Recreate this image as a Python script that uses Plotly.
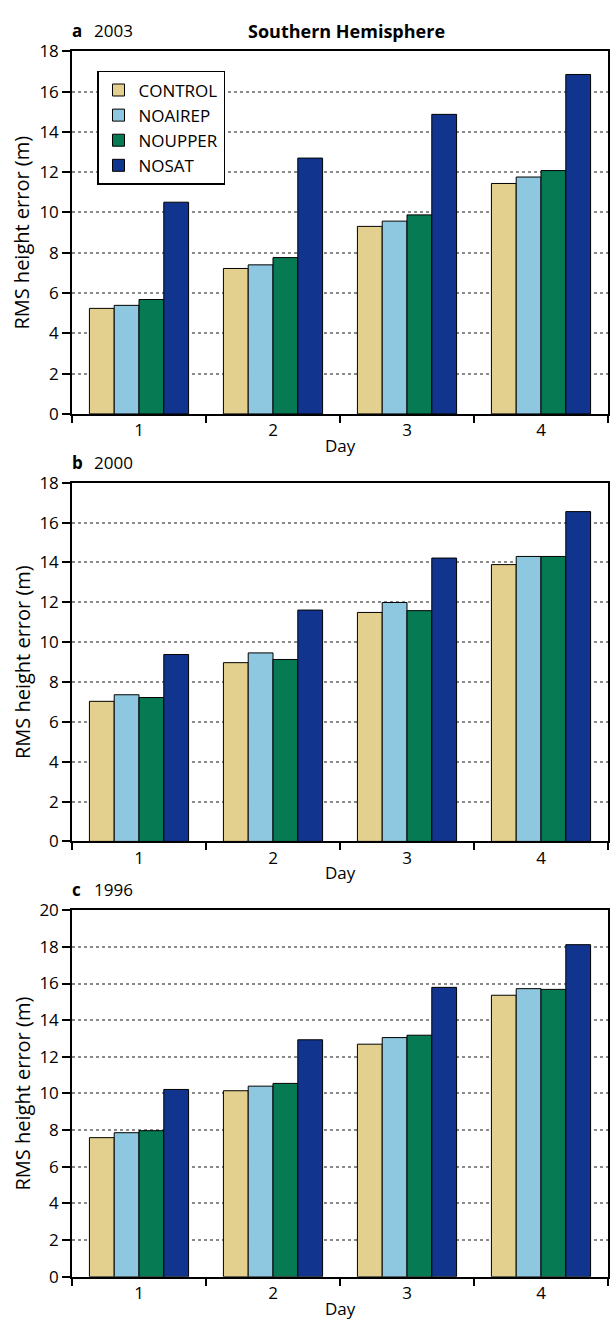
import plotly.graph_objects as go

days = ["1", "2", "3", "4"]
series_names = ["CONTROL", "NOAIREP", "NOUPPER", "NOSAT"]
colors = ["#e3cf8e", "#8ec8e0", "#067a52", "#11358f"]

# Panel a: 2003
a_control = [5.24, 7.22, 9.31, 11.44]
a_noairep = [5.39, 7.40, 9.57, 11.76]
a_noupper = [5.68, 7.76, 9.88, 12.08]
a_nosat = [10.51, 12.70, 14.87, 16.85]

# Panel b: 2000
b_control = [7.03, 8.97, 11.49, 13.89]
b_noairep = [7.36, 9.46, 11.99, 14.30]
b_noupper = [7.22, 9.13, 11.58, 14.30]
b_nosat = [9.38, 11.61, 14.22, 16.55]

# Panel c: 1996
c_control = [7.59, 10.15, 12.69, 15.36]
c_noairep = [7.86, 10.40, 13.05, 15.72]
c_noupper = [7.97, 10.55, 13.18, 15.68]
c_nosat = [10.22, 12.93, 15.79, 18.12]

panel_letters = ["a", "b", "c"]
panel_years = ["2003", "2000", "1996"]
y_max = [18, 18, 20]
y_ticks_a = [0, 2, 4, 6, 8, 10, 12, 14, 16, 18]
y_ticks_b = [0, 2, 4, 6, 8, 10, 12, 14, 16, 18]
y_ticks_c = [0, 2, 4, 6, 8, 10, 12, 14, 16, 18, 20]

panels = [
    [a_control, a_noairep, a_noupper, a_nosat],
    [b_control, b_noairep, b_noupper, b_nosat],
    [c_control, c_noairep, c_noupper, c_nosat],
]
tick_sets = [y_ticks_a, y_ticks_b, y_ticks_c]

W, H = 611, 1331
FONT = "Open Sans"

# pixel layout of plot areas (top, bottom)
panel_px = [(40, 409), (479, 844), (914, 1287)]
x_left, x_right = 72, 608


def py(v):
    return 1 - v / H


def px(v):
    return v / W


fig = go.Figure()

for p, data in enumerate(panels):
    xa = "x" if p == 0 else f"x{p+1}"
    ya = "y" if p == 0 else f"y{p+1}"
    for s, vals in enumerate(data):
        fig.add_trace(go.Bar(
            x=days, y=vals, name=series_names[s],
            marker=dict(color=colors[s], line=dict(color="black", width=1)),
            xaxis=xa, yaxis=ya, showlegend=(p == 0),
        ))

layout = dict(
    width=W, height=H,
    margin=dict(l=0, r=0, t=0, b=0),
    paper_bgcolor="white", plot_bgcolor="white",
    font=dict(family=FONT, size=17, color="black"),
    barmode="group", bargap=0.26, bargroupgap=0.0,
    showlegend=True,
    legend=dict(
        x=px(97), y=py(60), xanchor="left", yanchor="top",
        bordercolor="black", borderwidth=1.5, bgcolor="white",
        font=dict(family=FONT, size=17, color="black"),
        tracegroupgap=0, itemclick=False,
    ),
)

annotations = []
for p in range(3):
    top, bot = panel_px[p]
    sx = "" if p == 0 else str(p + 1)
    layout["xaxis" + sx] = dict(
        domain=[px(x_left), px(x_right)], anchor="y" + sx,
        type="category", categoryorder="array", categoryarray=days,
        showline=True, linecolor="black", linewidth=1.5, mirror=True,
        ticks="outside", ticklen=7, tickwidth=1.5, tickcolor="black",
        tickson="boundaries", showgrid=False, zeroline=False,
        tickfont=dict(family=FONT, size=17, color="black"),
    )
    layout["yaxis" + sx] = dict(
        domain=[py(bot), py(top)], anchor="x" + sx,
        range=[0, y_max[p]], tickmode="array", tickvals=tick_sets[p],
        showline=True, linecolor="black", linewidth=1.5, mirror=True,
        ticks="outside", ticklen=8, tickwidth=1.5, tickcolor="black",
        showgrid=True, gridcolor="#8a8a8a", gridwidth=1.5, griddash="dot",
        zeroline=False,
        tickfont=dict(family=FONT, size=17, color="black"),
    )
    annotations.append(dict(
        text="RMS height error (m)", textangle=-90,
        x=px(22), y=py((top + bot) / 2), xref="paper", yref="paper",
        xanchor="center", yanchor="middle", showarrow=False,
        font=dict(family=FONT, size=20, color="black"),
    ))
    annotations.append(dict(
        text="Day", x=px((x_left + x_right) / 2), y=py(bot + 32),
        xref="paper", yref="paper", xanchor="center", yanchor="middle",
        showarrow=False, font=dict(family=FONT, size=17, color="black"),
    ))
    annotations.append(dict(
        text="<b>" + panel_letters[p] + "</b>", x=px(70), y=py(top - 21),
        xref="paper", yref="paper", xanchor="left", yanchor="middle",
        showarrow=False, font=dict(family=FONT, size=17, color="black"),
    ))
    annotations.append(dict(
        text=panel_years[p], x=px(92), y=py(top - 21),
        xref="paper", yref="paper", xanchor="left", yanchor="middle",
        showarrow=False, font=dict(family=FONT, size=17, color="black"),
    ))

annotations.append(dict(
    text="<b>Southern Hemisphere</b>", x=px(346), y=py(19),
    xref="paper", yref="paper", xanchor="center", yanchor="middle",
    showarrow=False, font=dict(family=FONT, size=18, color="black"),
))
layout["annotations"] = annotations

fig.update_layout(**layout)
fig.write_html("out.html")
